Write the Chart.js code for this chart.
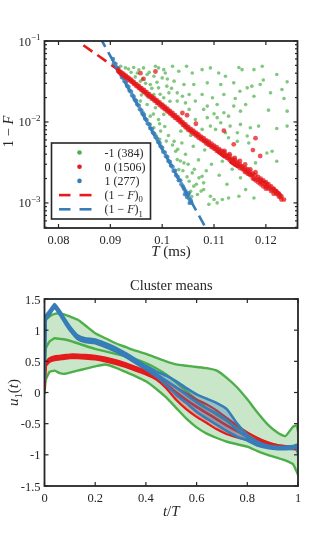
<!DOCTYPE html>
<html>
<head>
<meta charset="utf-8">
<script src="https://cdn.jsdelivr.net/npm/chart.js@4.4.1/dist/chart.umd.min.js"></script>
<style>
  html, body { margin: 0; padding: 0; background: #fff; }
  #wrap { position: relative; width: 328px; height: 546px; }
  canvas { position: absolute; left: 0; }
</style>
</head>
<body>
<div id="wrap">
  <canvas id="fitChart" width="328" height="270" style="top:0"></canvas>
  <canvas id="meanChart" width="328" height="276" style="top:270px"></canvas>
</div>
<script>
// ---------- top panel: 1-F vs T ----------
const clusterLabels = ['-1 (384)', '0 (1506)', '1 (277)'];

// cluster -1, [T (ms), 1-F]
const clusterM1 = [
  [0.0920,0.0488],[0.0929,0.0465],[0.0945,0.0470],[0.0964,0.0465],[0.0987,0.0488],[0.0993,0.0465],[0.1003,0.0443],
  [0.0952,0.0403],[0.0971,0.0385],[0.0984,0.0367],[0.1000,0.0350],[0.1006,0.0403],[0.0958,0.0319],[0.0977,0.0290],
  [0.0993,0.0264],[0.1009,0.0277],[0.0964,0.0240],[0.0984,0.0218],[0.1003,0.0199],[0.1013,0.0229],[0.0958,0.0181],
  [0.0971,0.0164],[0.0987,0.0150],[0.1000,0.0164],[0.0964,0.0130],[0.0977,0.0118],[0.0993,0.0107],[0.1003,0.0124],
  [0.0977,0.00933],[0.0984,0.00849],[0.0997,0.00771],[0.0989,0.0067],[0.0995,0.0061],
  [0.1026,0.00434],[0.1029,0.00343],[0.1042,0.00312],[0.1032,0.00258],[0.1058,0.00235],[0.1071,0.00204],[0.1077,0.00213],
  [0.1080,0.00177],[0.1052,0.00185],[0.1061,0.00161],[0.1055,0.00139],[0.1068,0.00127],[0.1080,0.00146],[0.1093,0.00121],
  [0.1100,0.00110],[0.1116,0.00110],[0.1128,0.00115],[0.1148,0.00121],[0.1090,0.00096],[0.1106,0.00100],[0.1100,0.00477],
  [0.1116,0.00327],[0.1138,0.00343],[0.1151,0.00204],[0.1161,0.00246],[0.1170,0.00224],[0.1180,0.00312],[0.1202,0.00414],
  [0.1212,0.00434],[0.1221,0.00327],[0.1145,0.00576],[0.1167,0.00549],[0.1122,0.00736],[0.1036,0.0077],[0.1023,0.00576],
  [0.1177,0.00115],[0.1161,0.00146],
  [0.1020,0.0488],[0.1032,0.0423],[0.1047,0.0488],[0.1058,0.0403],[0.1077,0.0443],[0.1093,0.0465],[0.1109,0.0403],
  [0.1122,0.0367],[0.1148,0.0470],[0.1154,0.0443],[0.1177,0.0443],[0.1193,0.0488],[0.1221,0.0385],[0.1241,0.0313],
  [0.1023,0.0319],[0.1042,0.0290],[0.1061,0.0290],[0.1087,0.0304],[0.1113,0.0290],[0.1138,0.0304],[0.1164,0.0264],
  [0.1173,0.0277],[0.1189,0.0290],[0.1209,0.0229],[0.1231,0.0252],[0.1029,0.0229],[0.1039,0.0208],[0.1052,0.0218],
  [0.1077,0.0218],[0.1097,0.0199],[0.1119,0.0218],[0.1141,0.0195],[0.1161,0.0164],[0.1177,0.0208],[0.1029,0.0181],
  [0.1045,0.0172],[0.1064,0.0181],[0.1087,0.0157],[0.1106,0.0164],[0.1138,0.0157],[0.1052,0.0143],[0.1080,0.0143],
  [0.1100,0.0126],[0.1119,0.0130],[0.1151,0.0136],[0.1241,0.0136],[0.1064,0.0107],[0.1087,0.0113],[0.1106,0.0113],
  [0.1128,0.0118],[0.1113,0.00977],[0.1093,0.00889],[0.1131,0.00889],[0.1151,0.00933],[0.1170,0.00849],[0.1186,0.00889],
  [0.1221,0.00832],[0.1241,0.00889],[0.1077,0.00809],[0.1103,0.00809],[0.1145,0.00736],[0.1164,0.0067],[0.1128,0.00639],
  [0.0935,0.045],[0.0940,0.041],[0.0948,0.036],[0.0955,0.044],[0.0962,0.034],[0.0968,0.030],[0.0975,0.041],
  [0.0980,0.026],[0.0990,0.031],[0.0996,0.022],[0.1010,0.034],[0.1015,0.018],[0.1018,0.026],[0.0972,0.0205],
  [0.0960,0.0215],[0.0983,0.0125],[0.0995,0.0095],[0.1005,0.0088],[0.1012,0.0068],[0.1020,0.0052],[0.1008,0.0058],
  [0.1030,0.0046],[0.1038,0.0055],[0.1045,0.0040],[0.1050,0.0030],[0.1035,0.0033],[0.1040,0.0025],[0.1048,0.0021],
  [0.1062,0.0026],[0.1066,0.0017],[0.1057,0.0012],[0.1075,0.0014],[0.1085,0.0025],[0.1095,0.0030],[0.1070,0.0034],
  [0.1060,0.0050],[0.1082,0.0045],[0.1110,0.0022],[0.1125,0.0017],[0.1135,0.0026],[0.1190,0.0019],[0.1045,0.0090],
  [0.1055,0.0068],[0.1205,0.0140],[0.1235,0.0195],[0.1195,0.0330],[0.1150,0.0240]
];

// cluster 0
const cluster0 = [
  [0.0915,0.044],[0.0915,0.0425],[0.0920,0.0415],[0.0920,0.0395],[0.0925,0.0395],[0.0925,0.0375],[0.0930,0.0372],[0.0930,0.0352],
  [0.0935,0.0352],[0.0935,0.0332],[0.0940,0.0333],[0.0940,0.0315],[0.0945,0.0312],[0.0945,0.0296],[0.0950,0.0294],[0.0950,0.0278],
  [0.0955,0.0278],[0.0955,0.0262],[0.0960,0.0262],[0.0960,0.0247],[0.0965,0.0248],[0.0965,0.0233],[0.0970,0.0233],[0.0970,0.0219],
  [0.0975,0.0220],[0.0975,0.0206],[0.0980,0.0207],[0.0980,0.0194],[0.0985,0.0196],[0.0985,0.0183],[0.0990,0.0184],[0.0990,0.0172],
  [0.0995,0.0174],[0.0995,0.0162],[0.1000,0.0164],[0.1000,0.0152],[0.1005,0.0155],[0.1005,0.0144],[0.1010,0.0146],[0.1010,0.0135],
  [0.1015,0.0137],[0.1015,0.0127],[0.1020,0.0129],[0.1020,0.0119],[0.1025,0.0121],[0.1025,0.0112],[0.1030,0.0114],[0.1030,0.0106],
  [0.1035,0.0107],[0.1035,0.0099],[0.1040,0.0099],[0.1040,0.0092],[0.1045,0.0093],[0.1045,0.0086],[0.1050,0.0087],[0.1050,0.0080],
  [0.1055,0.0082],[0.1055,0.0076],[0.1060,0.0078],[0.1060,0.0072],[0.1065,0.0074],[0.1065,0.0068],[0.1070,0.0070],[0.1070,0.0064],
  [0.1075,0.0066],[0.1075,0.0061],[0.1080,0.0063],[0.1080,0.0058],[0.1085,0.0059],[0.1085,0.0054],[0.1090,0.0057],[0.1090,0.0052],
  [0.1095,0.0054],[0.1095,0.0049],[0.1100,0.0051],[0.1100,0.0047],[0.1105,0.0049],[0.1105,0.0044],[0.1110,0.0046],[0.1110,0.0042],
  [0.1115,0.0044],[0.1115,0.0040],[0.1120,0.0042],[0.1120,0.0038],[0.1120,0.0044],[0.1125,0.0039],[0.1125,0.0036],
  [0.1130,0.0038],[0.1130,0.0034],[0.1130,0.0040],[0.1135,0.0035],[0.1135,0.0032],[0.1140,0.0034],[0.1140,0.0030],[0.1140,0.0036],
  [0.1145,0.0032],[0.1145,0.0029],[0.1150,0.0030],[0.1150,0.0027],[0.1150,0.0033],[0.1155,0.0028],[0.1155,0.0026],
  [0.1160,0.0027],[0.1160,0.0024],[0.1160,0.0030],[0.1165,0.0026],[0.1165,0.0023],[0.1170,0.0024],[0.1170,0.0022],[0.1170,0.0026],
  [0.1175,0.0023],[0.1175,0.0020],[0.1180,0.0022],[0.1180,0.0019],[0.1180,0.0024],[0.1185,0.0021],[0.1185,0.0018],
  [0.1190,0.0020],[0.1190,0.0017],[0.1190,0.0018],[0.1195,0.0019],[0.1195,0.0016],[0.1200,0.0018],[0.1200,0.0016],[0.1200,0.0015],
  [0.1205,0.0017],[0.1205,0.0015],[0.1210,0.0016],[0.1210,0.0014],[0.1215,0.0015],[0.1215,0.0013],[0.1220,0.0014],[0.1220,0.0013],
  [0.1225,0.0013],[0.1225,0.0012],[0.1230,0.0012],[0.1230,0.0011],[0.1235,0.0011],
  [0.09175,0.0418],[0.09225,0.0395],[0.09275,0.0373],[0.09325,0.0352],[0.09375,0.0333],[0.09425,0.0314],[0.09475,0.0295],
  [0.09525,0.0278],[0.09575,0.0262],[0.09625,0.0247],[0.09675,0.0233],[0.09725,0.0219],[0.09775,0.0206],[0.09825,0.0194],
  [0.09875,0.0183],[0.09925,0.0173],[0.09975,0.0163],[0.10025,0.0153],[0.10075,0.0144],[0.10125,0.0136],[0.10175,0.0128],
  [0.10225,0.0120],[0.10275,0.0113],[0.10325,0.0106],[0.10375,0.0099],[0.10425,0.0092],[0.10475,0.0086],[0.10525,0.0081],
  [0.10575,0.0077],[0.10625,0.0073],[0.10675,0.0069],[0.10725,0.0065],[0.10775,0.0061],[0.10825,0.0058],[0.10875,0.0055],
  [0.10925,0.0052],[0.10975,0.0050],[0.11025,0.0047],[0.11075,0.0045],[0.11125,0.0043],[0.11175,0.0041],[0.11225,0.0038],
  [0.11275,0.0036],[0.11325,0.0034],[0.11375,0.0032],[0.11425,0.0031],[0.11475,0.0029],[0.11525,0.0028],[0.11575,0.0026],
  [0.11625,0.0025],[0.11675,0.0023],[0.11725,0.0022],[0.11775,0.0020],[0.11825,0.00195],[0.11875,0.0019],[0.11925,0.0018],
  [0.11975,0.0017],[0.12025,0.0016],[0.12075,0.00155],[0.12125,0.00145],[0.12175,0.00138],[0.12225,0.0013],[0.12275,0.0012],
  [0.0958,0.040],[0.0964,0.0340],[0.0987,0.042],[0.1039,0.0129],[0.1048,0.0121],[0.1119,0.0078],[0.1138,0.0053],
  [0.1175,0.0045],[0.1189,0.0038],[0.1180,0.0063],[0.1065,0.0095]
];

// cluster 1
const cluster1 = [
  [0.0905,0.060],[0.0907,0.053],[0.0910,0.052],[0.0912,0.047],[0.0915,0.046],[0.0917,0.041],[0.0920,0.040],[0.0922,0.036],
  [0.0925,0.035],[0.0927,0.032],[0.0930,0.031],[0.0932,0.028],[0.0935,0.027],[0.0937,0.0245],[0.0940,0.0236],[0.0942,0.0214],
  [0.0945,0.0207],[0.0947,0.0188],[0.0950,0.0182],[0.0952,0.0165],[0.0955,0.0159],[0.0957,0.0144],[0.0960,0.0139],[0.0962,0.0126],
  [0.0965,0.0122],[0.0967,0.0110],[0.0970,0.0106],[0.0972,0.0096],[0.0975,0.0093],[0.0977,0.0084],[0.0980,0.0082],[0.0982,0.0074],
  [0.0985,0.0071],[0.0987,0.0065],[0.0990,0.0062],[0.0992,0.0057],[0.0995,0.0055],[0.0997,0.0050],[0.1000,0.0048],[0.1002,0.0043],
  [0.1005,0.0042],[0.1007,0.0038],[0.1010,0.0037],[0.1012,0.0033],[0.1015,0.0032],[0.1017,0.0029],[0.1020,0.0028],[0.1022,0.0025],
  [0.1025,0.0025],[0.1027,0.0022],[0.1030,0.0021],[0.1032,0.0019],[0.1035,0.0019],[0.1037,0.0017],[0.1040,0.0016],[0.1042,0.0015],
  [0.1045,0.0014],[0.1047,0.0013],[0.1050,0.00125],[0.1052,0.00113],[0.1055,0.00108],[0.1053,0.00100],[0.1048,0.00118],
  [0.1044,0.00128],[0.1051,0.00132],[0.1056,0.00102]
];

// fitted curves (1-F)_0 and (1-F)_1
const fit0 = [[0.0848,0.0885],[0.0910,0.0466],[0.0926,0.0386],[0.0950,0.0285],[0.1000,0.0158],[0.1034,0.0105],
              [0.1049,0.0084],[0.1080,0.0060],[0.1137,0.0030],[0.1177,0.00215],[0.1209,0.00162],[0.1237,0.00113]];
const fit1 = [[0.0880,0.111],[0.1090,0.00042]];

const xTicksTop = [0.08, 0.09, 0.1, 0.11, 0.12];
const xTickLabelsTop = ['0.08', '0.09', '0.1', '0.11', '0.12'];
const yTicksTop = [0.001, 0.01, 0.1];
const yTickExpTop = ['\u22123', '\u22122', '\u22121'];
const yMinorTop = [0.0005,0.0006,0.0007,0.0008,0.0009,0.002,0.003,0.004,0.005,0.006,0.007,0.008,0.009,
                   0.02,0.03,0.04,0.05,0.06,0.07,0.08,0.09];

// ---------- bottom panel: cluster means ----------
const tGrid = [0, 0.005, 0.02, 0.04, 0.06, 0.08, 0.1, 0.13, 0.16, 0.2, 0.24, 0.28, 0.32, 0.36, 0.4, 0.44,
               0.48, 0.52, 0.56, 0.6, 0.64, 0.68, 0.72, 0.76, 0.8, 0.84, 0.88, 0.92, 0.95, 0.98, 0.995, 1];
const greenUpper = [0.05, 1.15, 1.22, 1.26, 1.27, 1.25, 1.22, 1.17, 1.08, 0.95, 0.87, 0.79, 0.73, 0.67, 0.62, 0.56,
                    0.5, 0.45, 0.43, 0.41, 0.39, 0.35, 0.23, 0.08, -0.11, -0.32, -0.51, -0.645, -0.7, -0.55, -0.53, -0.62];
const greenMean = [0.0, 0.7, 0.82, 0.87, 0.86, 0.85, 0.83, 0.79, 0.75, 0.70, 0.66, 0.62, 0.58, 0.53, 0.47, 0.39,
                   0.29, 0.16, 0.02, -0.12, -0.25, -0.36, -0.46, -0.56, -0.65, -0.73, -0.8, -0.85, -0.87, -0.88, -0.88, -0.9];
const greenLower = [-0.02, 0.2, 0.33, 0.35, 0.31, 0.3, 0.32, 0.35, 0.38, 0.42, 0.45, 0.4, 0.33, 0.26, 0.18, 0.06,
                    -0.08, -0.25, -0.42, -0.56, -0.66, -0.73, -0.79, -0.83, -0.87, -0.94, -1.0, -1.05, -1.09, -1.15, -1.27, -1.32];
const redMean = [0.05, 0.45, 0.52, 0.55, 0.56, 0.57, 0.58, 0.58, 0.575, 0.56, 0.53, 0.49, 0.44, 0.38, 0.32, 0.24,
                 0.13, 0.0, -0.12, -0.23, -0.33, -0.43, -0.53, -0.62, -0.7, -0.77, -0.83, -0.87, -0.88, -0.89, -0.9, -0.92];
const redUpper = [0.05, 0.48, 0.55, 0.58, 0.59, 0.6, 0.61, 0.61, 0.605, 0.59, 0.56, 0.52, 0.47, 0.41, 0.35, 0.27,
                  0.18, 0.08, -0.02, -0.11, -0.19, -0.29, -0.41, -0.53, -0.64, -0.73, -0.8, -0.845, -0.86, -0.87, -0.88, -0.9];
const redLower = [0.05, 0.42, 0.49, 0.52, 0.53, 0.54, 0.55, 0.55, 0.545, 0.53, 0.5, 0.46, 0.41, 0.35, 0.29, 0.21,
                  0.07, -0.12, -0.27, -0.39, -0.49, -0.59, -0.67, -0.72, -0.76, -0.8, -0.85, -0.89, -0.9, -0.91, -0.92, -0.94];
const blueMean = [0.2, 1.2, 1.28, 1.39, 1.28, 1.15, 1.03, 0.89, 0.84, 0.82, 0.76, 0.69, 0.6, 0.5, 0.4, 0.3,
                  0.19, 0.08, -0.04, -0.16, -0.26, -0.34, -0.45, -0.6, -0.72, -0.82, -0.87, -0.89, -0.89, -0.88, -0.86, -0.95];
const blueUpper = [0.2, 1.23, 1.31, 1.42, 1.31, 1.18, 1.06, 0.92, 0.87, 0.85, 0.79, 0.72, 0.63, 0.53, 0.43, 0.34,
                   0.27, 0.18, 0.07, -0.03, -0.1, -0.17, -0.27, -0.5, -0.68, -0.79, -0.85, -0.87, -0.87, -0.86, -0.84, -0.92];
const blueLower = [0.2, 1.17, 1.25, 1.36, 1.25, 1.12, 1.0, 0.86, 0.81, 0.79, 0.73, 0.66, 0.57, 0.47, 0.37, 0.26,
                   0.12, -0.04, -0.17, -0.31, -0.42, -0.52, -0.62, -0.71, -0.77, -0.85, -0.89, -0.91, -0.91, -0.9, -0.88, -0.98];

const xTicksBot = [0, 0.2, 0.4, 0.6, 0.8, 1];
const xTickLabelsBot = ['0', '0.2', '0.4', '0.6', '0.8', '1'];
const yTicksBot = [-1.5, -1, -0.5, 0, 0.5, 1, 1.5];
const yTickLabelsBot = ['-1.5', '-1', '-0.5', '0', '0.5', '1', '1.5'];

// ---------- style ----------
const FONT = '"Liberation Serif", "DejaVu Serif", serif';
const INK = '#262626';
const GREEN = '#4daf4a', RED = '#e41a1c', BLUE = '#377eb8';

// draws a run of text pieces: {t, i: italic, s: 'sub'|'sup'}
function richText(ctx, parts, x, y, size, align) {
  const fontFor = p => {
    const small = p.s === 'sub' || p.s === 'sup';
    return (p.i ? 'italic ' : '') + (small ? size * 0.72 : size) + 'px ' + FONT;
  };
  let w = 0;
  parts.forEach(p => { ctx.font = fontFor(p); w += ctx.measureText(p.t).width; });
  let cx = align === 'center' ? x - w / 2 : align === 'right' ? x - w : x;
  ctx.textAlign = 'left';
  ctx.textBaseline = 'alphabetic';
  parts.forEach(p => {
    ctx.font = fontFor(p);
    const dy = p.s === 'sub' ? size * 0.28 : p.s === 'sup' ? -size * 0.42 : 0;
    ctx.fillText(p.t, cx, y + dy);
    cx += ctx.measureText(p.t).width;
  });
}

function tickLine(ctx, x1, y1, x2, y2) {
  ctx.beginPath(); ctx.moveTo(x1, y1); ctx.lineTo(x2, y2); ctx.stroke();
}

function drawBox(chart, xt, yt, yMinor) {
  const { ctx, chartArea: a, scales: { x, y } } = chart;
  ctx.strokeStyle = INK;
  ctx.lineWidth = 1.2;
  xt.forEach(v => {
    const px = x.getPixelForValue(v);
    tickLine(ctx, px, a.bottom, px, a.bottom - 4);
    tickLine(ctx, px, a.top, px, a.top + 4);
  });
  yt.forEach(v => {
    const py = y.getPixelForValue(v);
    tickLine(ctx, a.left, py, a.left + 4, py);
    tickLine(ctx, a.right, py, a.right - 4, py);
  });
  (yMinor || []).forEach(v => {
    const py = y.getPixelForValue(v);
    tickLine(ctx, a.left, py, a.left + 2.5, py);
    tickLine(ctx, a.right, py, a.right - 2.5, py);
  });
  ctx.lineWidth = 1.8;
  ctx.strokeRect(a.left, a.top, a.right - a.left, a.bottom - a.top);
}

const topDecor = {
  id: 'topDecor',
  afterDraw(chart) {
    const { ctx, chartArea: a, scales: { x, y } } = chart;
    ctx.save();
    drawBox(chart, xTicksTop, yTicksTop, yMinorTop);
    ctx.fillStyle = INK;
    xTicksTop.forEach((v, i) => richText(ctx, [{ t: xTickLabelsTop[i] }], x.getPixelForValue(v), a.bottom + 16, 12.5, 'center'));
    yTicksTop.forEach((v, i) => richText(ctx, [{ t: '10' }, { t: yTickExpTop[i], s: 'sup' }], a.left - 4, y.getPixelForValue(v) + 4.5, 12.5, 'right'));
    richText(ctx, [{ t: 'T', i: 1 }, { t: ' (ms)' }], (a.left + a.right) / 2, a.bottom + 28, 15, 'center');
    ctx.save();
    ctx.translate(13, (a.top + a.bottom) / 2 - 3);
    ctx.rotate(-Math.PI / 2);
    richText(ctx, [{ t: '1 \u2212 ' }, { t: 'F', i: 1 }], 0, 0, 14.5, 'center');
    ctx.restore();

    // legend
    const bx = a.left + 7, by = a.top + 102, bw = 99, bh = 76;
    ctx.fillStyle = '#fff';
    ctx.fillRect(bx, by, bw, bh);
    ctx.strokeStyle = INK; ctx.lineWidth = 1.6;
    ctx.strokeRect(bx, by, bw, bh);
    const ds = chart.data.datasets;
    const items = [
      { d: ds[2], parts: [{ t: clusterLabels[0] }] },
      { d: ds[0], parts: [{ t: clusterLabels[1] }] },
      { d: ds[1], parts: [{ t: clusterLabels[2] }] },
      { d: ds[3], parts: [{ t: '(1 \u2212 ' }, { t: 'F', i: 1 }, { t: ')' }, { t: '0', s: 'sub' }] },
      { d: ds[4], parts: [{ t: '(1 \u2212 ' }, { t: 'F', i: 1 }, { t: ')' }, { t: '1', s: 'sub' }] }
    ];
    items.forEach((it, i) => {
      const ry = by + 9.5 + i * 14.2;
      if (it.d.showLine === false) {
        ctx.fillStyle = it.d.legendColor;
        ctx.beginPath(); ctx.arc(bx + 28, ry, 2.3, 0, Math.PI * 2); ctx.fill();
      } else {
        ctx.strokeStyle = it.d.borderColor; ctx.lineWidth = 2.6;
        tickLine(ctx, bx + 7.5, ry, bx + 19, ry);
        tickLine(ctx, bx + 28, ry, bx + 40, ry);
      }
      ctx.fillStyle = INK;
      richText(ctx, it.parts, bx + 53, ry + 4, 12, 'left');
    });
    ctx.restore();
  }
};

const pts = arr => arr.map(p => ({ x: p[0], y: p[1] }));

new Chart(document.getElementById('fitChart').getContext('2d'), {
  type: 'line',
  data: {
    datasets: [
      { label: clusterLabels[1], data: pts(cluster0), showLine: false, pointRadius: 2.4, pointBorderWidth: 0,
        pointBackgroundColor: 'rgba(228,26,28,0.75)', legendColor: RED },
      { label: clusterLabels[2], data: pts(cluster1), showLine: false, pointRadius: 2.2, pointBorderWidth: 0,
        pointBackgroundColor: 'rgba(55,126,184,0.85)', legendColor: BLUE },
      { label: clusterLabels[0], data: pts(clusterM1), showLine: false, pointRadius: 1.8, pointBorderWidth: 0,
        pointBackgroundColor: 'rgba(77,175,74,0.7)', legendColor: GREEN },
      { label: '(1-F)0', data: pts(fit0), borderColor: RED, borderWidth: 2.6, borderDash: [11, 6],
        pointRadius: 0, tension: 0.3, clip: 0 },
      { label: '(1-F)1', data: pts(fit1), borderColor: BLUE, borderWidth: 2.6, borderDash: [11, 6],
        pointRadius: 0, clip: 0 }
    ]
  },
  options: {
    responsive: false,
    animation: false,
    devicePixelRatio: 1,
    events: [],
    layout: { padding: { left: 44.5, right: 30.5, top: 41, bottom: 42 } },
    scales: {
      x: { type: 'linear', min: 0.0773, max: 0.1261, display: false },
      y: { type: 'logarithmic', min: 0.00049, max: 0.1, display: false }
    },
    plugins: { legend: { display: false }, tooltip: { enabled: false } }
  },
  plugins: [topDecor]
});

// ---------- bottom chart ----------
const botDecor = {
  id: 'botDecor',
  afterDraw(chart) {
    const { ctx, chartArea: a, scales: { x, y } } = chart;
    ctx.save();
    drawBox(chart, xTicksBot, yTicksBot);
    ctx.fillStyle = INK;
    xTicksBot.forEach((v, i) => richText(ctx, [{ t: xTickLabelsBot[i] }], x.getPixelForValue(v), a.bottom + 16, 12.5, 'center'));
    yTicksBot.forEach((v, i) => richText(ctx, [{ t: yTickLabelsBot[i] }], a.left - 4, y.getPixelForValue(v) + 4.5, 12.5, 'right'));
    richText(ctx, [{ t: 'Cluster means' }], (a.left + a.right) / 2, a.top - 9, 14.5, 'center');
    richText(ctx, [{ t: 't', i: 1 }, { t: '/' }, { t: 'T', i: 1 }], (a.left + a.right) / 2, a.bottom + 30, 15, 'center');
    ctx.save();
    ctx.translate(18, (a.top + a.bottom) / 2);
    ctx.rotate(-Math.PI / 2);
    richText(ctx, [{ t: 'u', i: 1 }, { t: '1', s: 'sub' }, { t: '(' }, { t: 't', i: 1 }, { t: ')' }], 0, 0, 15, 'center');
    ctx.restore();
    ctx.restore();
  }
};

const series = vals => tGrid.map((t, i) => ({ x: t, y: vals[i] }));
const lineDs = (label, vals, color, width, extra) => Object.assign({
  label, data: series(vals), borderColor: color, borderWidth: width, pointRadius: 0,
  borderJoinStyle: 'round', borderCapStyle: 'round', tension: 0.15, fill: false
}, extra || {});

new Chart(document.getElementById('meanChart').getContext('2d'), {
  type: 'line',
  data: {
    datasets: [
      lineDs('1 mean', blueMean, BLUE, 2.6),
      lineDs('1 upper', blueUpper, BLUE, 2.6, { fill: '+1', backgroundColor: 'rgba(55,126,184,0.35)' }),
      lineDs('1 lower', blueLower, BLUE, 2.6),
      lineDs('0 mean', redMean, RED, 2.6),
      lineDs('0 upper', redUpper, RED, 2.2, { fill: '+1', backgroundColor: 'rgba(228,26,28,0.3)' }),
      lineDs('0 lower', redLower, RED, 2.2),
      lineDs('-1 mean', greenMean, GREEN, 2.4),
      lineDs('-1 upper', greenUpper, GREEN, 2.4, { fill: '+1', backgroundColor: 'rgba(77,175,74,0.3)' }),
      lineDs('-1 lower', greenLower, GREEN, 2.4)
    ]
  },
  options: {
    responsive: false,
    animation: false,
    devicePixelRatio: 1,
    events: [],
    layout: { padding: { left: 44.5, right: 30, top: 29, bottom: 60 } },
    scales: {
      x: { type: 'linear', min: 0, max: 1, display: false },
      y: { type: 'linear', min: -1.5, max: 1.5, display: false }
    },
    plugins: { legend: { display: false }, tooltip: { enabled: false } }
  },
  plugins: [botDecor]
});
</script>
</body>
</html>
